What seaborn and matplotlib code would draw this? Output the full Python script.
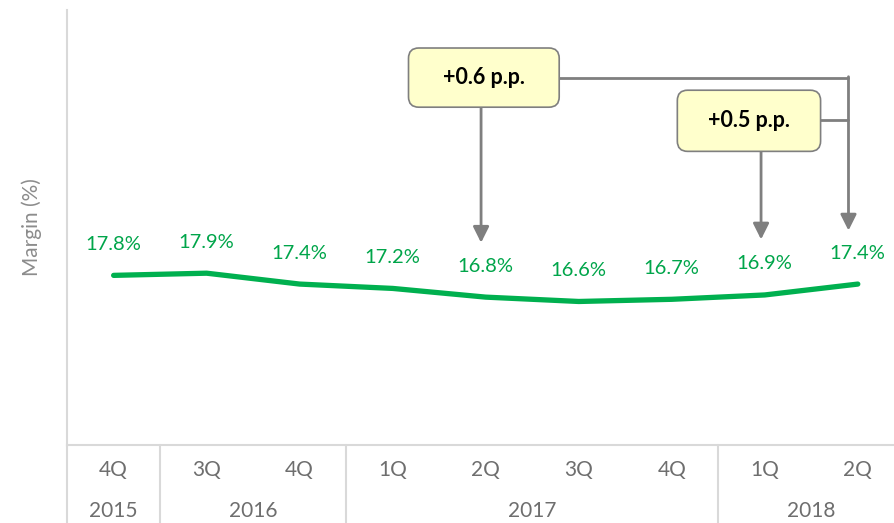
import pandas as pd
import seaborn as sns
import matplotlib.pyplot as plt
from matplotlib.patches import FancyBboxPatch

# Chart data
quarters = ["4Q", "3Q", "4Q", "1Q", "2Q", "3Q", "4Q", "1Q", "2Q"]
years = ["2015", "2016", "2017", "2018"]
year_groups = [1, 2, 4, 2]  # number of quarters shown per year
margin = [17.8, 17.9, 17.4, 17.2, 16.8, 16.6, 16.7, 16.9, 17.4]
change_labels = ["+0.6 p.p.", "+0.5 p.p."]

GREEN = "#00B04F"
LABEL_GREEN = "#00A54A"
GRAY = "#7F7F7F"
LIGHT = "#D9D9D9"
TEXT_GRAY = "#6E6E6E"


def build_frame():
    return pd.DataFrame({"pos": range(len(margin)), "margin": margin})


def add_box(ax, x0, x1, y0, y1, label):
    # rounded box, aspect corrected for the unequal data scales
    patch = FancyBboxPatch((x0, y0), x1 - x0, y1 - y0,
                           boxstyle="round,pad=0,rounding_size=0.11",
                           mutation_aspect=4.3, fc="#FFFFCC", ec=GRAY, lw=1.2, zorder=5)
    ax.add_patch(patch)
    ax.text((x0 + x1) / 2, (y0 + y1) / 2, label, ha="center", va="center",
            fontsize=15.5, fontweight="bold", color="black", zorder=6)


def draw(df):
    sns.set_theme(style="white")
    plt.rcParams["font.family"] = ["Lato", "DejaVu Sans"]

    fig = plt.figure(figsize=(8.95, 5.23), dpi=100)
    ax = fig.add_axes([0.075, 0.149, 0.925, 0.832])

    # Margin line
    sns.lineplot(data=df, x="pos", y="margin", ax=ax, color=GREEN,
                 linewidth=3.8, solid_capstyle="round", solid_joinstyle="round")

    # Value labels above the points
    for _, row in df.iterrows():
        ax.annotate(f"{row['margin']:.1f}%", (row["pos"], row["margin"]),
                    xytext=(0, 31), textcoords="offset pixels",
                    ha="center", va="center", color=LABEL_GREEN, fontsize=14.5)

    ax.set_xlim(-0.5, 8.4)
    ax.set_ylim(10, 30)
    ax.set_yticks([])
    ax.set_xlabel("")
    ax.set_ylabel("Margin (%)", color="#8C8C8C", fontsize=15, labelpad=18)

    for side in ["top", "right"]:
        ax.spines[side].set_visible(False)
    for side in ["left", "bottom"]:
        ax.spines[side].set_color(LIGHT)
        ax.spines[side].set_linewidth(1.5)

    # Two-level category axis
    ax.set_xticks(range(len(quarters)))
    ax.set_xticklabels(quarters, color=TEXT_GRAY, fontsize=15)
    ax.tick_params(axis="x", length=0, pad=11)

    trans = ax.get_xaxis_transform()
    start = 0
    for year, n in zip(years, year_groups):
        center = start + (n - 1) / 2
        ax.text(center, -0.152, year, transform=trans, ha="center", va="center",
                color=TEXT_GRAY, fontsize=15)
        start += n
        ax.plot([start - 0.5, start - 0.5], [0, -0.2], transform=trans,
                color=LIGHT, lw=1.5, clip_on=False)
    ax.plot([-0.5, -0.5], [0, -0.2], transform=trans, color=LIGHT, lw=1.5, clip_on=False)

    # Change annotations
    arrow = dict(arrowstyle="-|>", color=GRAY, lw=2, mutation_scale=24,
                 shrinkA=0, shrinkB=0)

    ax.plot([4.7, 7.9], [26.87, 26.87], color=GRAY, lw=2, zorder=1)
    ax.plot([7.5, 7.9], [24.93, 24.93], color=GRAY, lw=2, zorder=1)
    add_box(ax, 3.17, 4.79, 25.53, 28.25, change_labels[0])
    add_box(ax, 6.06, 7.60, 23.50, 26.31, change_labels[1])

    ax.annotate("", xy=(3.95, 19.3), xytext=(3.95, 25.53), arrowprops=arrow)
    ax.annotate("", xy=(6.96, 19.45), xytext=(6.96, 23.5), arrowprops=arrow)
    ax.annotate("", xy=(7.9, 19.86), xytext=(7.9, 26.93), arrowprops=arrow)

    plt.savefig("out.png", dpi=100)


if __name__ == "__main__":
    draw(build_frame())
